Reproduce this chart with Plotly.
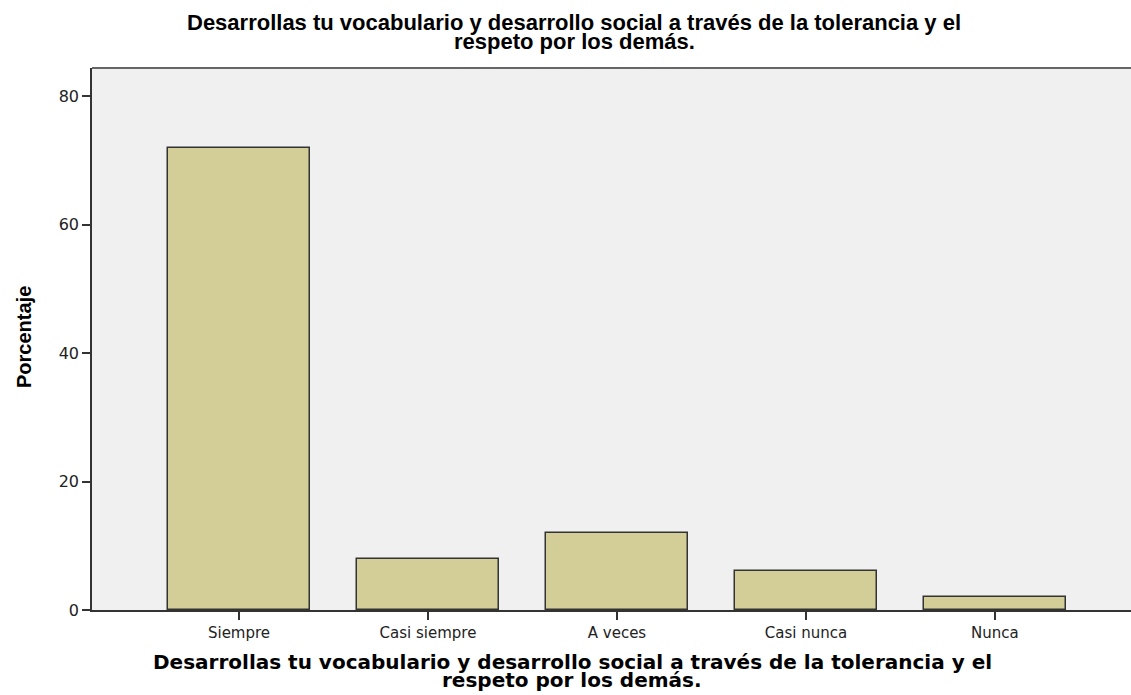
import plotly.graph_objects as go

categories = ["Siempre", "Casi siempre", "A veces", "Casi nunca", "Nunca"]
values = [72, 8, 12, 6, 2]
y_ticks = [0, 20, 40, 60, 80]
title_lines = ["Desarrollas tu vocabulario y desarrollo social a través de la tolerancia y el",
               "respeto por los demás."]
y_title = "Porcentaje"

W, H = 1131, 695
L, R, T, B = 92, 0, 68, 85
pw, ph = W - L - R, H - T - B

def px(x):
    return (x - L) / pw

def py(y):
    return (H - B - y) / ph

fig = go.Figure()
fig.add_trace(go.Bar(
    x=list(range(len(categories))), y=values, width=0.75,
    marker=dict(color="#D3CE97", line=dict(color="#333333", width=1.5)),
    hoverinfo="x+y",
))

annotations = []
for i, line in enumerate(title_lines):
    annotations.append(dict(text="<b>" + line + "</b>", x=px(574), y=py(23 + 19 * i),
                            xref="paper", yref="paper", showarrow=False,
                            xanchor="center", yanchor="middle",
                            font=dict(family="Liberation Sans", size=22, color="#000000")))
    annotations.append(dict(text="<b>" + line + "</b>", x=px(572), y=py(662 + 18 * i),
                            xref="paper", yref="paper", showarrow=False,
                            xanchor="center", yanchor="middle",
                            font=dict(family="DejaVu Sans", size=20, color="#000000")))

annotations.append(dict(text="<b>" + y_title + "</b>", x=px(24), y=py(337), xref="paper",
                        yref="paper", showarrow=False, textangle=-90,
                        xanchor="center", yanchor="middle",
                        font=dict(family="Liberation Sans", size=20, color="#000000")))

fig.update_layout(
    width=W, height=H,
    margin=dict(l=L, r=R, t=T, b=B, pad=0),
    paper_bgcolor="#FFFFFF", plot_bgcolor="#F0F0F0",
    showlegend=False, bargap=0,
    annotations=annotations,
    xaxis=dict(
        range=[-0.778, 4.72], tickmode="array",
        tickvals=list(range(len(categories))), ticktext=categories,
        ticks="outside", ticklen=8, tickwidth=1.5, tickcolor="#333333",
        showline=True, linecolor="#333333", linewidth=1.5,
        showgrid=False, zeroline=False,
        tickfont=dict(family="DejaVu Sans", size=15, color="#222222"),
    ),
    yaxis=dict(
        range=[0, 84.4], tickmode="array", tickvals=y_ticks,
        ticks="outside", ticklen=8, tickwidth=1.5, tickcolor="#333333",
        showline=True, linecolor="#333333", linewidth=1.5,
        showgrid=False, zeroline=False,
        tickfont=dict(family="DejaVu Sans", size=16, color="#222222"),
    ),
    shapes=[dict(type="line", xref="paper", yref="paper", x0=0, x1=1, y0=1, y1=1,
                 line=dict(color="#666666", width=2))],
)

fig.write_html("out.html", config={"displayModeBar": False},
               post_script="document.body.style.margin='0';document.body.style.overflow='hidden';")
